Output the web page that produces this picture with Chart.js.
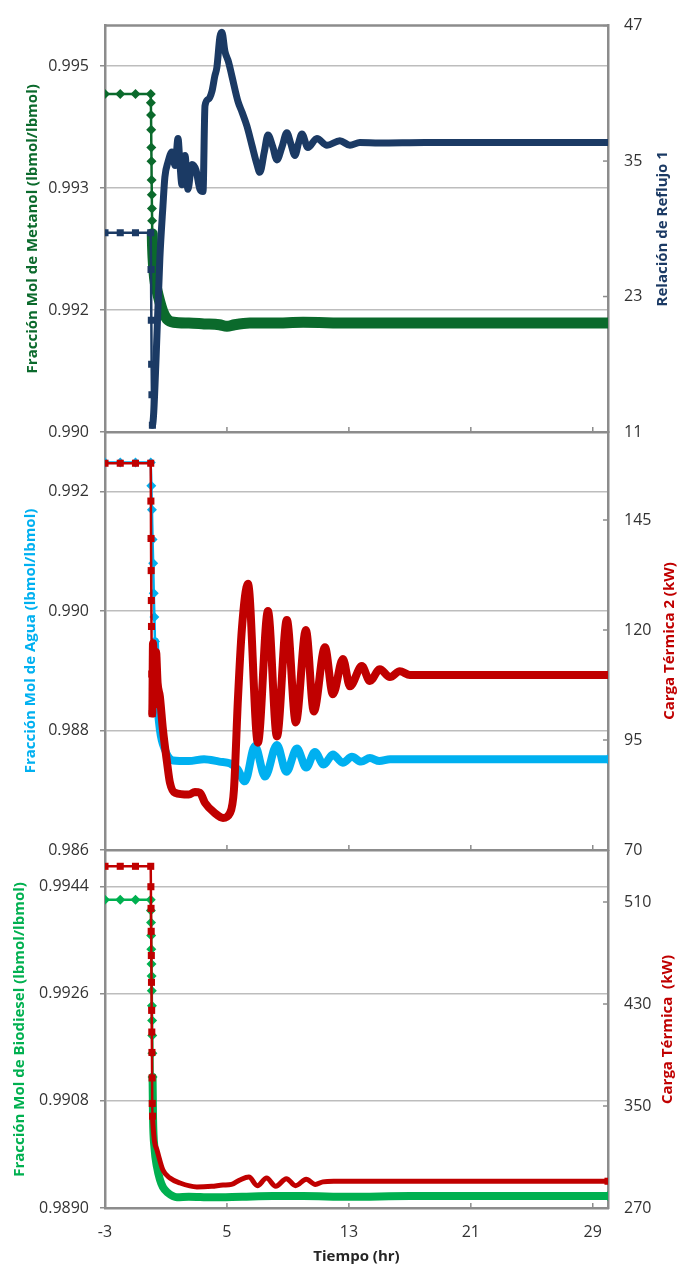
<!DOCTYPE html>
<html lang="es">
<head>
<meta charset="utf-8">
<title>Respuesta dinámica de la columna</title>
<script src="https://cdn.jsdelivr.net/npm/chart.js@4.4.1/dist/chart.umd.min.js"></script>
<style>
  html, body { margin: 0; padding: 0; background: #fff; }
  #container { position: relative; width: 678px; height: 1268px; }
  #container canvas { position: absolute; left: 0; top: 0; }
</style>
</head>
<body>
<div id="container">
  <canvas id="chart-metanol" width="678" height="1268"></canvas>
  <canvas id="chart-agua" width="678" height="1268"></canvas>
  <canvas id="chart-biodiesel" width="678" height="1268"></canvas>
</div>
<script>
//================ data ========================
//x axis (hr)
const xTicks = [-3, 5, 13, 21, 29];
const xLabels = ["-3", "5", "13", "21", "29"];

//panel 1 : metanol + reflujo
const timeMetanol = [-3, -2, -1, 0, 0.01, 0.02, 0.03, 0.04, 0.05, 0.06, 0.07, 0.08, 0.09, 0.1, 0.15, 0.25, 0.4, 0.6, 0.8, 1.07, 1.5, 2.5, 3.5, 4.5, 5, 5.5, 6.5, 8, 10, 13, 17, 22, 26, 30];
const fracMetanol = [0.99416, 0.99416, 0.99416, 0.99416, 0.99405, 0.9939, 0.99372, 0.9935, 0.99333, 0.9931, 0.99292, 0.99275, 0.9926, 0.99244, 0.99215, 0.9919, 0.99175, 0.9916, 0.99148, 0.99139, 0.99135, 0.99134, 0.99133, 0.99132, 0.9913, 0.99132, 0.99134, 0.99134, 0.99135, 0.99134, 0.99134, 0.99134, 0.99134, 0.99134];
const timeReflujo = [-3, -2, -1, 0, 0.02, 0.04, 0.06, 0.08, 0.11, 0.2, 0.35, 0.6, 0.8, 0.93, 1.13, 1.39, 1.6, 1.79, 1.92, 2.05, 2.25, 2.44, 2.7, 2.97, 3.23, 3.43, 3.56, 3.8, 4.02, 4.2, 4.34, 4.54, 4.67, 4.87, 5.1, 5.33, 5.72, 6.0, 6.31, 6.64, 6.97, 7.16, 7.45, 7.69, 8.0, 8.28, 8.6, 8.93, 9.2, 9.46, 9.7, 9.92, 10.31, 10.9, 11.56, 12.41, 13.07, 13.72, 15, 18, 22, 26, 30];
const relReflujo = [28.65, 28.65, 28.65, 28.65, 25.4, 20.9, 17.0, 14.3, 11.6, 12.8, 17.5, 26.4, 31.0, 33.6, 34.9, 35.8, 34.6, 37.0, 34.7, 32.9, 35.5, 32.5, 34.7, 34.2, 32.5, 32.3, 39.9, 40.5, 41.2, 42.5, 43.3, 46.0, 46.4, 44.7, 43.8, 42.5, 40.3, 39.3, 38.1, 36.4, 34.7, 34.0, 35.8, 37.3, 36.3, 35.1, 36.2, 37.5, 36.5, 35.5, 36.6, 37.4, 36.2, 37.0, 36.4, 36.8, 36.4, 36.65, 36.6, 36.65, 36.65, 36.65, 36.65];
const metanolTicks = [0.99, 0.9915, 0.993, 0.9945];
const metanolLabels = ["0.990", "0.992", "0.993", "0.995"];
const reflujoTicks = [11, 23, 35, 47];

//panel 2 : agua + carga termica 2
const timeAgua = [-3, -2, -1, 0, 0.04, 0.08, 0.12, 0.16, 0.2, 0.24, 0.28, 0.41, 0.6, 0.93, 1.46, 2.5, 3.5, 4.5, 5.2, 5.7, 6.18, 6.84, 7.5, 8.28, 8.9, 9.59, 10.2, 10.77, 11.35, 11.95, 12.6, 13.2, 13.8, 14.38, 15.0, 15.7, 17, 20, 25, 30];
const fracAgua = [0.99249, 0.99249, 0.99249, 0.99249, 0.9921, 0.9917, 0.9912, 0.9908, 0.9903, 0.9899, 0.98949, 0.98858, 0.98802, 0.98768, 0.9875, 0.98749, 0.98752, 0.98748, 0.98745, 0.98735, 0.98715, 0.98774, 0.98723, 0.98776, 0.98731, 0.9877, 0.98738, 0.98764, 0.98743, 0.9876, 0.98746, 0.98756, 0.98748, 0.98754, 0.98749, 0.98752, 0.98752, 0.98752, 0.98752, 0.98752];
const timeCarga2 = [-3, -2, -1, 0, 0.01, 0.02, 0.03, 0.04, 0.05, 0.07, 0.1, 0.15, 0.25, 0.35, 0.45, 0.6, 0.8, 1.07, 1.26, 1.59, 2.5, 2.9, 3.23, 3.56, 4.2, 4.74, 5.2, 5.46, 5.72, 5.98, 6.38, 7.03, 7.69, 8.28, 8.93, 9.52, 10.18, 10.7, 11.43, 11.95, 12.61, 13.07, 13.85, 14.38, 15.03, 15.69, 16.34, 17, 20, 25, 30];
const carga2 = [157.9, 157.9, 157.9, 157.9, 149.3, 140.8, 133.5, 126.7, 120.8, 110, 101, 117, 103, 115, 108, 104.9, 97.4, 89.9, 85.3, 83.0, 82.6, 83.2, 83.0, 80.7, 78.4, 77.3, 78.4, 83.7, 104.2, 120.2, 130.5, 94.4, 124.3, 95.8, 122.3, 99.0, 120.0, 101.5, 116.1, 105.4, 113.4, 107.2, 111.8, 108.4, 111.1, 109.3, 110.6, 109.8, 109.8, 109.8, 109.8];
const aguaTicks = [0.986, 0.988, 0.99, 0.992];
const aguaLabels = ["0.986", "0.988", "0.990", "0.992"];
const carga2Ticks = [70, 95, 120, 145];

//panel 3 : biodiesel + carga termica
const timeBiodiesel = [-3, -2, -1, 0, 0.01, 0.02, 0.03, 0.04, 0.05, 0.06, 0.07, 0.08, 0.09, 0.1, 0.11, 0.12, 0.15, 0.25, 0.41, 0.6, 0.8, 1.1, 1.72, 2.5, 4, 6, 8, 10, 13, 17, 22, 26, 30];
const fracBiodiesel = [0.99418, 0.99418, 0.99418, 0.99418, 0.994, 0.9938, 0.99358, 0.99335, 0.9931, 0.9929, 0.99265, 0.9924, 0.99215, 0.9919, 0.9916, 0.9912, 0.99053, 0.99, 0.98969, 0.98948, 0.98935, 0.98926, 0.98918, 0.98919, 0.98918, 0.98919, 0.9892, 0.9892, 0.98919, 0.9892, 0.9892, 0.9892, 0.9892];
const timeCarga = [-3, -2, -1, 0, 0.01, 0.02, 0.03, 0.04, 0.05, 0.06, 0.07, 0.08, 0.09, 0.1, 0.12, 0.15, 0.25, 0.41, 0.8, 1.26, 1.92, 3.03, 4.0, 4.74, 5.3, 5.85, 6.44, 7.0, 7.6, 8.2, 8.9, 9.5, 10.2, 10.8, 11.3, 12, 15, 20, 25, 30];
const carga = [538, 538, 538, 538, 522, 505, 487, 468, 447, 425, 408, 392, 372, 352, 342, 335, 322, 315.5, 299.8, 293.5, 289.6, 286.5, 287, 288, 288.5, 292, 294.3, 287.5, 293.5, 287, 293, 287.5, 292.5, 288.5, 290.5, 291, 291, 291, 291, 291];
const biodieselTicks = [0.989, 0.9908, 0.9926, 0.9944];
const biodieselLabels = ["0.9890", "0.9908", "0.9926", "0.9944"];
const cargaTicks = [270, 350, 430, 510];

//================ styles ========================
const axisGray = "#8c8c8c";
const gridGray = "#bdbdbd";
const fontFamily = "'Open Sans', sans-serif";

//frame plugin : inner ticks, top border, right title
const panelFrame = {
  id: "panelFrame",
  afterDraw(chart, args, opts) {
    const { ctx, chartArea } = chart;
    const x = chart.scales.x;
    const y1 = chart.scales.y1;
    ctx.save();
    ctx.strokeStyle = axisGray;
    ctx.lineWidth = 1.5;
    //x ticks pointing up
    x.ticks.forEach((t) => {
      const px = x.getPixelForValue(t.value);
      ctx.beginPath();
      ctx.moveTo(px, chartArea.bottom);
      ctx.lineTo(px, chartArea.bottom - 5);
      ctx.stroke();
    });
    //right ticks pointing left
    y1.ticks.forEach((t) => {
      const py = y1.getPixelForValue(t.value);
      ctx.beginPath();
      ctx.moveTo(chartArea.right, py);
      ctx.lineTo(chartArea.right - 5, py);
      ctx.stroke();
    });
    //top border
    if (opts.topBorder) {
      ctx.lineWidth = 2.5;
      ctx.beginPath();
      ctx.moveTo(chartArea.left, chartArea.top);
      ctx.lineTo(chartArea.right, chartArea.top);
      ctx.stroke();
    }
    //right title (reads upward)
    ctx.translate(opts.titleX, (chartArea.top + chartArea.bottom) / 2);
    ctx.rotate(-Math.PI / 2);
    ctx.font = `bold 15px ${fontFamily}`;
    ctx.fillStyle = opts.color;
    ctx.textAlign = "center";
    ctx.textBaseline = "middle";
    ctx.fillText(opts.title, 0, 0);
    ctx.restore();
  },
};

//dataset builder
function serie(times, values, s) {
  return {
    data: times.map((t, i) => ({ x: t, y: values[i] })),
    yAxisID: s.axis,
    borderColor: s.color,
    backgroundColor: s.color,
    borderWidth: s.width,
    pointStyle: s.marker,
    pointRadius: (ctx) =>
      ctx.raw && (ctx.raw.x <= s.markerEnd || ctx.dataIndex === times.length - 1) ? s.size : 0,
    pointBorderWidth: 0,
    cubicInterpolationMode: "monotone",
    borderJoinStyle: "round",
    borderCapStyle: "round",
    segment: {
      borderWidth: (ctx) => (ctx.p1.parsed.x <= s.markerEnd ? 2.5 : s.width),
    },
  };
}

//panel builder
function panel(canvasId, p) {
  return new Chart(document.getElementById(canvasId), {
    type: "line",
    data: { datasets: p.datasets },
    options: {
      responsive: false,
      animation: false,
      devicePixelRatio: 1,
      events: [],
      layout: { padding: { top: p.top, left: 0, right: 0, bottom: 0 } },
      plugins: {
        legend: { display: false },
        tooltip: { enabled: false },
        panelFrame: {
          topBorder: p.topBorder,
          title: p.rightTitle,
          color: p.rightColor,
          titleX: p.rightTitleX,
        },
      },
      scales: {
        x: {
          type: "linear",
          min: -3,
          max: 30,
          afterBuildTicks: (s) => {
            s.ticks = xTicks.map((v) => ({ value: v }));
          },
          afterFit: (s) => {
            s.height = 1268 - p.bottom;
          },
          grid: { drawOnChartArea: false, drawTicks: false },
          border: { color: axisGray, width: 2.5 },
          ticks: {
            display: p.showX,
            padding: 15,
            maxRotation: 0,
            autoSkip: false,
            callback: (v, i) => xLabels[i],
          },
          title: {
            display: p.showX,
            text: "Tiempo (hr)",
            color: "#262626",
            font: { size: 15, weight: "bold" },
            padding: { top: 0, bottom: 2 },
          },
        },
        y: {
          position: "left",
          min: p.leftMin,
          max: p.leftMax,
          afterBuildTicks: (s) => {
            s.ticks = p.leftTicks.map((v) => ({ value: v }));
          },
          afterFit: (s) => {
            s.width = 105;
          },
          grid: {
            color: gridGray,
            lineWidth: 1.5,
            drawTicks: true,
            tickLength: 5,
            tickColor: axisGray,
            tickWidth: 1.5,
          },
          border: { color: axisGray, width: 2.5 },
          ticks: { padding: 11, autoSkip: false, callback: (v, i) => p.leftLabels[i] },
          title: {
            display: true,
            text: p.leftTitle,
            color: p.leftColor,
            font: { size: 15, weight: "bold" },
            padding: { top: p.leftTitlePad, bottom: 0 },
          },
        },
        y1: {
          position: "right",
          min: p.rightMin,
          max: p.rightMax,
          afterBuildTicks: (s) => {
            s.ticks = p.rightTicks.map((v) => ({ value: v }));
          },
          afterFit: (s) => {
            s.width = 70;
          },
          grid: { drawOnChartArea: false, drawTicks: false },
          border: { color: axisGray, width: 2.5 },
          ticks: { padding: 16, autoSkip: false, callback: (v, i) => String(p.rightTicks[i]) },
        },
      },
    },
    plugins: [panelFrame],
  });
}

document.addEventListener("DOMContentLoaded", () => {
  Chart.defaults.font.family = fontFamily;
  Chart.defaults.font.size = 16;
  Chart.defaults.color = "#333333";

  //================ chart metanol ========================
  panel("chart-metanol", {
    top: 18,
    bottom: 432,
    showX: false,
    topBorder: true,
    leftMin: 0.99,
    leftMax: 0.995,
    leftTicks: metanolTicks,
    leftLabels: metanolLabels,
    leftTitle: "Fracción Mol de Metanol (lbmol/lbmol)",
    leftColor: "#0b6a2c",
    leftTitlePad: 24,
    rightMin: 11,
    rightMax: 47,
    rightTicks: reflujoTicks,
    rightTitle: "Relación de Reflujo 1",
    rightColor: "#1b3a64",
    rightTitleX: 663,
    datasets: [
      serie(timeReflujo, relReflujo, { axis: "y1", color: "#1b3a64", width: 7, marker: "rect", size: 5, markerEnd: 0.11 }),
      serie(timeMetanol, fracMetanol, { axis: "y", color: "#0b6a2c", width: 11, marker: "rectRot", size: 5, markerEnd: 0.1 }),
    ],
  });

  //================ chart agua ========================
  panel("chart-agua", {
    top: 432,
    bottom: 850,
    showX: false,
    topBorder: false,
    leftMin: 0.986,
    leftMax: 0.993,
    leftTicks: aguaTicks,
    leftLabels: aguaLabels,
    leftTitle: "Fracción Mol de Agua (lbmol/lbmol)",
    leftColor: "#00b0f0",
    leftTitlePad: 22,
    rightMin: 70,
    rightMax: 165,
    rightTicks: carga2Ticks,
    rightTitle: "Carga Térmica 2 (kW)",
    rightColor: "#c00000",
    rightTitleX: 670,
    datasets: [
      serie(timeCarga2, carga2, { axis: "y1", color: "#c00000", width: 8, marker: "rect", size: 5, markerEnd: 0.1 }),
      serie(timeAgua, fracAgua, { axis: "y", color: "#00b0f0", width: 8, marker: "rectRot", size: 5, markerEnd: 0.28 }),
    ],
  });

  //================ chart biodiesel ========================
  panel("chart-biodiesel", {
    top: 851,
    bottom: 1208,
    showX: true,
    topBorder: false,
    leftMin: 0.989,
    leftMax: 0.995,
    leftTicks: biodieselTicks,
    leftLabels: biodieselLabels,
    leftTitle: "Fracción Mol de Biodiesel (lbmol/lbmol)",
    leftColor: "#00b050",
    leftTitlePad: 11,
    rightMin: 270,
    rightMax: 550,
    rightTicks: cargaTicks,
    rightTitle: "Carga Térmica  (kW)",
    rightColor: "#c00000",
    rightTitleX: 668,
    datasets: [
      serie(timeCarga, carga, { axis: "y1", color: "#c00000", width: 5, marker: "rect", size: 5, markerEnd: 0.12 }),
      serie(timeBiodiesel, fracBiodiesel, { axis: "y", color: "#00b050", width: 8, marker: "rectRot", size: 5, markerEnd: 0.12 }),
    ],
  });
});
</script>
</body>
</html>
